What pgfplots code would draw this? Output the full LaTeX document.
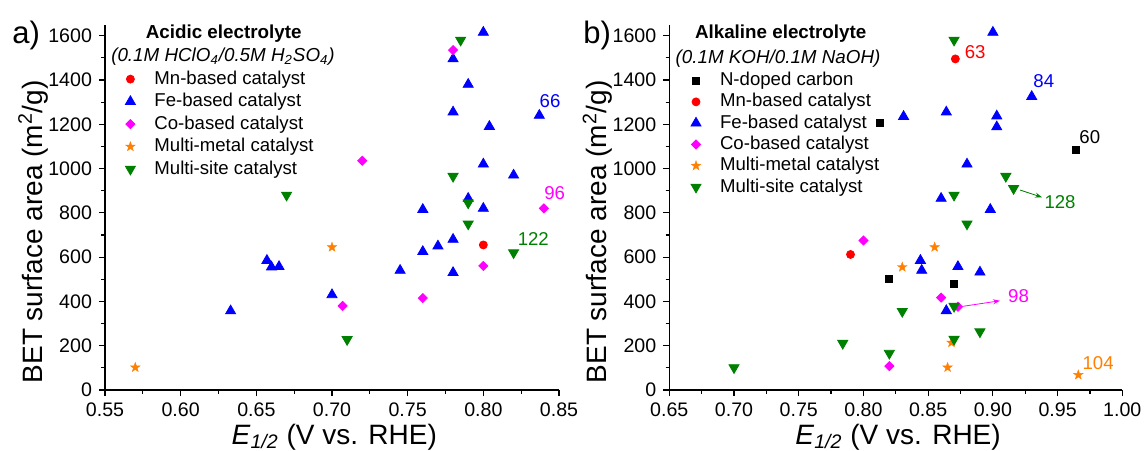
\documentclass[border=0pt]{standalone}
\usepackage{fontspec}
\setmainfont{Liberation Sans}
\usepackage{pgfplots}
\pgfplotsset{compat=1.18}
\usetikzlibrary{arrows.meta}

\definecolor{cmn}{RGB}{255,0,0}
\definecolor{cfe}{RGB}{0,0,255}
\definecolor{cco}{RGB}{255,0,255}
\definecolor{cmm}{RGB}{255,128,0}
\definecolor{cms}{RGB}{0,128,0}

% filled five-pointed star
\pgfdeclareplotmark{fstar}{%
  \pgfpathmoveto{\pgfpointpolar{90}{\pgfplotmarksize}}%
  \pgfpathlineto{\pgfpointpolar{126}{0.4\pgfplotmarksize}}%
  \pgfpathlineto{\pgfpointpolar{162}{\pgfplotmarksize}}%
  \pgfpathlineto{\pgfpointpolar{198}{0.4\pgfplotmarksize}}%
  \pgfpathlineto{\pgfpointpolar{234}{\pgfplotmarksize}}%
  \pgfpathlineto{\pgfpointpolar{270}{0.4\pgfplotmarksize}}%
  \pgfpathlineto{\pgfpointpolar{306}{\pgfplotmarksize}}%
  \pgfpathlineto{\pgfpointpolar{342}{0.4\pgfplotmarksize}}%
  \pgfpathlineto{\pgfpointpolar{18}{\pgfplotmarksize}}%
  \pgfpathlineto{\pgfpointpolar{54}{0.4\pgfplotmarksize}}%
  \pgfpathclose
  \pgfusepathqfillstroke
}

\newcommand{\smallfont}{\fontsize{9.3}{11}\selectfont}

\pgfplotsset{
  betaxis/.style={
    scale only axis,
    height=182.7pt,
    axis lines=left,
    axis line style={-, line width=0.6pt},
    ymin=0, ymax=1650,
    ytick={0,200,...,1600},
    minor y tick num=1,
    minor x tick num=1,
    tick align=outside,
    major tick length=3pt,
    minor tick length=1.8pt,
    tick style={black, line width=0.6pt},
    /pgf/number format/assume math mode=true,
    tick label style={font=\fontsize{9.8}{11}\selectfont},
    yticklabel style={/pgf/number format/1000 sep={}},
    xticklabel style={/pgf/number format/.cd, fixed, fixed zerofill, precision=2},
    label style={font=\fontsize{14}{16}\selectfont},
    xlabel={\textit{E}\textsubscript{\textit{1/2}} (V vs. RHE)},
    ylabel={BET surface area (m\textsuperscript{2}/g)},
    xlabel style={at={(axis description cs:0.505,-0.148)}, anchor=base},
    ylabel style={at={(axis description cs:-0.158,0.433)}, anchor=center},
    clip=false,
    legend cell align=left,
    legend style={draw=none, fill=none, anchor=north west, inner sep=0pt,
      font=\smallfont, nodes={inner sep=1pt, text height=7pt, text depth=2pt},
      /tikz/every odd column/.append style={column sep=8.5pt}},
    mn/.style={only marks, mark=*, mark size=2pt, color=cmn},
    fe/.style={only marks, mark=triangle*, mark size=2.9pt, color=cfe},
    co/.style={only marks, mark=square*, mark size=1.6pt, mark options={rotate=45}, color=cco},
    mm/.style={only marks, mark=fstar, mark size=2.5pt, mark options={line width=0.2pt}, color=cmm},
    ms/.style={only marks, mark=triangle*, mark size=2.9pt, mark options={rotate=180}, color=cms},
    nc/.style={only marks, mark=square*, mark size=1.75pt, color=black},
  }
}

\begin{document}
\begin{tikzpicture}
\useasboundingbox (0,0) rectangle (572.5pt,225pt);

% a) acidic
\begin{axis}[betaxis,
  at={(52.5pt,30pt)}, anchor=south west, width=227pt,
  xmin=0.55, xmax=0.85, xtick={0.55,0.60,...,0.86},
  legend style={at={(axis description cs:0.044,0.882)}, row sep=0.25pt},
]
\addplot[mn] coordinates {(0.80,655)};
\addplot[fe] coordinates {
  (0.633,357) (0.657,585) (0.660,555) (0.665,557) (0.700,430) (0.745,540)
  (0.760,815) (0.760,625) (0.770,650) (0.780,680) (0.780,530) (0.780,1495)
  (0.780,1255) (0.790,1380) (0.790,865) (0.800,1615) (0.800,1020) (0.800,820)
  (0.804,1190) (0.820,970) (0.837,1240)};
\addplot[co] coordinates {
  (0.720,1035) (0.780,1535) (0.840,820) (0.800,560) (0.760,415) (0.707,380)};
\addplot[mm] coordinates {(0.700,645) (0.570,102)};
\addplot[ms] coordinates {
  (0.670,880) (0.785,1580) (0.780,965) (0.790,845) (0.790,750) (0.820,620) (0.710,228)};
\legend{Mn-based catalyst, Fe-based catalyst, Co-based catalyst,
  Multi-metal catalyst, Multi-site catalyst}
\node[anchor=west, inner sep=0pt, font=\smallfont, text=cfe] at (axis cs:0.837,1306) {66};
\node[anchor=west, inner sep=0pt, font=\smallfont, text=cco] at (axis cs:0.840,890) {96};
\node[anchor=west, inner sep=0pt, font=\smallfont, text=cms] at (axis cs:0.8225,682) {122};
\end{axis}

% b) alkaline
\begin{axis}[betaxis,
  at={(334.65pt,30pt)}, anchor=south west, width=226.5pt,
  xmin=0.65, xmax=1.00, xtick={0.65,0.70,...,1.01},
  legend style={at={(axis description cs:0.047,0.878)}, row sep=-0.35pt},
]
\addplot[nc] coordinates {(0.813,1205) (0.964,1083) (0.820,500) (0.870,480)};
\addplot[mn] coordinates {(0.871,1495) (0.790,612)};
\addplot[fe] coordinates {
  (0.900,1615) (0.930,1325) (0.864,1255) (0.831,1235) (0.903,1237) (0.903,1188)
  (0.880,1020) (0.860,865) (0.898,815) (0.844,585) (0.845,540) (0.873,557)
  (0.890,532) (0.864,358)};
\addplot[co] coordinates {(0.800,675) (0.860,417) (0.873,376) (0.820,108)};
\addplot[mm] coordinates {(0.855,645) (0.830,555) (0.868,214) (0.865,102) (0.966,68)};
\addplot[ms] coordinates {
  (0.870,1580) (0.910,965) (0.916,910) (0.870,880) (0.880,750) (0.870,378)
  (0.830,355) (0.890,263) (0.870,229) (0.784,211) (0.820,166) (0.700,101)};
\legend{N-doped carbon, Mn-based catalyst, Fe-based catalyst, Co-based catalyst,
  Multi-metal catalyst, Multi-site catalyst}
\node[anchor=west, inner sep=0pt, font=\smallfont, text=cmn] at (axis cs:0.878,1527) {63};
\node[anchor=west, inner sep=0pt, font=\smallfont, text=cfe] at (axis cs:0.931,1395) {84};
\node[anchor=west, inner sep=0pt, font=\smallfont, text=black] at (axis cs:0.9666,1144) {60};
\node[anchor=west, inner sep=0pt, font=\smallfont, text=cms] at (axis cs:0.9396,850) {128};
\node[anchor=west, inner sep=0pt, font=\smallfont, text=cco] at (axis cs:0.9115,426) {98};
\node[anchor=west, inner sep=0pt, font=\smallfont, text=cmm] at (axis cs:0.969,123) {104};
\draw[-{Stealth[length=3.5pt,width=2.5pt]}, cms, line width=0.4pt]
  (axis cs:0.921,903) -- (axis cs:0.938,870);
\draw[-{Stealth[length=3.5pt,width=2.5pt]}, cco, line width=0.4pt]
  (axis cs:0.877,378) -- (axis cs:0.9055,403);
\end{axis}

% titles and panel letters
\node[anchor=base, font=\bfseries\fontsize{9.4}{11}\selectfont] at (111.85pt,205.8pt) {Acidic electrolyte};
\node[anchor=base, font=\itshape\fontsize{9.4}{11}\selectfont] at (111.5pt,194.2pt)
  {(0.1M HClO\textsubscript{4}/0.5M H\textsubscript{2}SO\textsubscript{4})};
\node[anchor=base, font=\bfseries\fontsize{9.4}{11}\selectfont] at (390.35pt,205.5pt) {Alkaline electrolyte};
\node[anchor=base, font=\itshape\fontsize{9.4}{11}\selectfont] at (389pt,193.3pt)
  {(0.1M KOH/0.1M NaOH)};
\node[anchor=base west, inner sep=0pt, font=\fontsize{15.5}{18}\selectfont] at (6pt,203.4pt) {a)};
\node[anchor=base west, inner sep=0pt, font=\fontsize{15.5}{18}\selectfont] at (291.5pt,203.4pt) {b)};
\end{tikzpicture}
\end{document}
